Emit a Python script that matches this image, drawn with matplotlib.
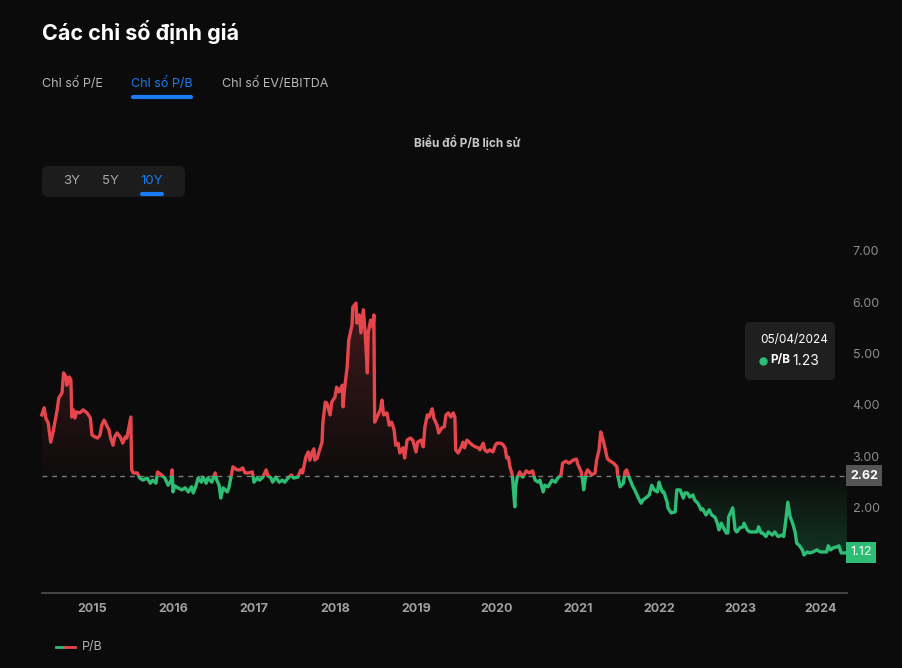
import matplotlib
matplotlib.use('Agg')
import matplotlib.pyplot as plt
import matplotlib.transforms as mtransforms
from matplotlib.patches import FancyBboxPatch, Rectangle
from matplotlib.lines import Line2D
import numpy as np

plt.rcParams['font.family'] = ['Inter', 'DejaVu Sans']

# P/B history, dates as fractional years
years = [
    2014.38, 2014.41, 2014.43, 2014.46, 2014.49, 2014.52, 2014.54, 2014.57, 2014.59, 2014.63,
    2014.65, 2014.68, 2014.69, 2014.72, 2014.74, 2014.75, 2014.77, 2014.79, 2014.81, 2014.85,
    2014.89, 2014.94, 2014.98, 2015.00, 2015.04, 2015.07, 2015.10, 2015.12, 2015.15, 2015.19,
    2015.21, 2015.23, 2015.26, 2015.28, 2015.31, 2015.35, 2015.38, 2015.41, 2015.43, 2015.46,
    2015.48, 2015.49, 2015.51, 2015.56, 2015.59, 2015.63, 2015.68, 2015.72, 2015.75, 2015.79,
    2015.81, 2015.86, 2015.90, 2015.94, 2015.98, 2015.99, 2016.00, 2016.02, 2016.06, 2016.11,
    2016.15, 2016.19, 2016.23, 2016.25, 2016.28, 2016.31, 2016.35, 2016.37, 2016.41, 2016.43,
    2016.48, 2016.52, 2016.54, 2016.57, 2016.59, 2016.62, 2016.67, 2016.69, 2016.72, 2016.74,
    2016.79, 2016.83, 2016.86, 2016.89, 2016.93, 2016.98, 2017.00, 2017.04, 2017.07, 2017.11,
    2017.15, 2017.17, 2017.21, 2017.23, 2017.27, 2017.31, 2017.35, 2017.38, 2017.42, 2017.46,
    2017.49, 2017.54, 2017.58, 2017.60, 2017.64, 2017.67, 2017.69, 2017.72, 2017.74, 2017.75,
    2017.78, 2017.81, 2017.84, 2017.85, 2017.88, 2017.90, 2017.94, 2017.96, 2018.00, 2018.02,
    2018.05, 2018.09, 2018.10, 2018.12, 2018.15, 2018.17, 2018.21, 2018.22, 2018.26, 2018.27,
    2018.30, 2018.32, 2018.35, 2018.37, 2018.40, 2018.41, 2018.44, 2018.47, 2018.48, 2018.49,
    2018.52, 2018.56, 2018.58, 2018.60, 2018.64, 2018.67, 2018.70, 2018.73, 2018.75, 2018.78,
    2018.80, 2018.84, 2018.86, 2018.89, 2018.93, 2018.96, 2019.00, 2019.02, 2019.06, 2019.09,
    2019.11, 2019.14, 2019.16, 2019.20, 2019.22, 2019.26, 2019.28, 2019.32, 2019.35, 2019.37,
    2019.40, 2019.43, 2019.46, 2019.48, 2019.49, 2019.52, 2019.56, 2019.58, 2019.60, 2019.63,
    2019.67, 2019.70, 2019.73, 2019.77, 2019.79, 2019.83, 2019.85, 2019.88, 2019.91, 2019.95,
    2019.98, 2020.00, 2020.04, 2020.07, 2020.10, 2020.12, 2020.14, 2020.16, 2020.19, 2020.20,
    2020.22, 2020.23, 2020.25, 2020.28, 2020.32, 2020.36, 2020.40, 2020.44, 2020.47, 2020.51,
    2020.53, 2020.57, 2020.59, 2020.63, 2020.68, 2020.72, 2020.75, 2020.79, 2020.81, 2020.85,
    2020.89, 2020.94, 2020.98, 2021.00, 2021.04, 2021.06, 2021.07, 2021.10, 2021.12, 2021.17,
    2021.21, 2021.23, 2021.26, 2021.28, 2021.31, 2021.33, 2021.36, 2021.38, 2021.42, 2021.44,
    2021.48, 2021.49, 2021.52, 2021.56, 2021.58, 2021.60, 2021.63, 2021.67, 2021.70, 2021.74,
    2021.78, 2021.80, 2021.85, 2021.88, 2021.91, 2021.94, 2021.98, 2022.00, 2022.04, 2022.06,
    2022.10, 2022.11, 2022.15, 2022.20, 2022.22, 2022.26, 2022.30, 2022.32, 2022.35, 2022.38,
    2022.42, 2022.44, 2022.48, 2022.52, 2022.54, 2022.58, 2022.62, 2022.65, 2022.69, 2022.72,
    2022.74, 2022.77, 2022.79, 2022.83, 2022.85, 2022.86, 2022.90, 2022.91, 2022.94, 2022.96,
    2023.00, 2023.04, 2023.05, 2023.09, 2023.12, 2023.16, 2023.21, 2023.23, 2023.26, 2023.28,
    2023.32, 2023.35, 2023.40, 2023.43, 2023.47, 2023.52, 2023.54, 2023.57, 2023.59, 2023.62,
    2023.65, 2023.68, 2023.70, 2023.73, 2023.77, 2023.79, 2023.83, 2023.86, 2023.90, 2023.95,
    2023.99, 2024.02, 2024.07, 2024.09, 2024.12, 2024.15, 2024.20, 2024.22, 2024.25, 2024.27,
    2024.30, 2024.32,
]
pb = [
    3.80, 3.94, 3.74, 3.64, 3.27, 3.47, 3.64, 3.90, 4.13, 4.23,
    4.62, 4.54, 4.38, 4.54, 4.48, 3.76, 3.90, 3.74, 3.86, 3.84,
    3.90, 3.84, 3.74, 3.41, 3.37, 3.35, 3.41, 3.60, 3.70, 3.57,
    3.51, 3.35, 3.21, 3.37, 3.45, 3.37, 3.25, 3.37, 3.35, 3.60,
    3.76, 2.73, 2.67, 2.67, 2.57, 2.53, 2.57, 2.47, 2.53, 2.47,
    2.69, 2.63, 2.57, 2.43, 2.53, 2.73, 2.30, 2.42, 2.38, 2.34,
    2.38, 2.30, 2.40, 2.28, 2.40, 2.57, 2.49, 2.59, 2.47, 2.57,
    2.49, 2.67, 2.53, 2.43, 2.18, 2.38, 2.30, 2.38, 2.63, 2.79,
    2.73, 2.73, 2.77, 2.67, 2.67, 2.69, 2.49, 2.57, 2.53, 2.59,
    2.73, 2.63, 2.57, 2.49, 2.59, 2.49, 2.53, 2.49, 2.57, 2.63,
    2.57, 2.59, 2.73, 2.67, 2.98, 3.08, 2.92, 3.08, 3.14, 2.92,
    2.96, 3.12, 3.27, 3.64, 4.05, 4.03, 3.80, 4.05, 4.15, 4.34,
    4.25, 4.38, 3.96, 4.34, 4.73, 5.26, 5.55, 5.90, 5.98, 5.59,
    5.75, 5.40, 5.85, 5.46, 4.62, 5.40, 5.65, 5.51, 5.75, 3.66,
    3.76, 3.90, 4.09, 3.80, 3.84, 3.60, 3.66, 3.51, 3.21, 3.25,
    3.06, 3.16, 2.96, 3.31, 3.35, 3.31, 3.08, 3.27, 3.31, 3.18,
    3.57, 3.80, 3.76, 3.92, 3.74, 3.60, 3.45, 3.55, 3.57, 3.80,
    3.84, 3.76, 3.84, 3.76, 3.12, 3.06, 3.18, 3.27, 3.16, 3.31,
    3.25, 3.21, 3.18, 3.16, 3.12, 3.25, 3.12, 3.08, 3.12, 3.08,
    3.21, 3.25, 3.25, 3.23, 3.16, 2.96, 2.98, 2.79, 2.63, 2.40,
    2.01, 2.40, 2.59, 2.69, 2.59, 2.71, 2.67, 2.71, 2.53, 2.49,
    2.53, 2.30, 2.43, 2.40, 2.53, 2.49, 2.57, 2.63, 2.86, 2.90,
    2.86, 2.92, 2.94, 2.83, 2.69, 2.49, 2.34, 2.67, 2.73, 2.63,
    2.67, 2.92, 3.12, 3.47, 3.31, 3.18, 2.96, 2.92, 2.88, 2.86,
    2.79, 2.63, 2.40, 2.47, 2.69, 2.73, 2.59, 2.43, 2.34, 2.20,
    2.08, 2.14, 2.20, 2.24, 2.43, 2.34, 2.30, 2.49, 2.30, 2.30,
    2.10, 1.99, 1.89, 1.91, 2.34, 2.34, 2.18, 2.28, 2.28, 2.20,
    2.24, 2.14, 2.08, 1.95, 1.97, 1.85, 1.95, 1.85, 1.81, 1.69,
    1.56, 1.69, 1.62, 1.50, 1.50, 1.81, 1.95, 1.99, 1.56, 1.52,
    1.60, 1.62, 1.69, 1.56, 1.52, 1.52, 1.52, 1.62, 1.50, 1.50,
    1.43, 1.52, 1.46, 1.52, 1.43, 1.46, 1.43, 1.81, 2.10, 1.81,
    1.69, 1.52, 1.30, 1.26, 1.17, 1.07, 1.13, 1.11, 1.13, 1.17,
    1.13, 1.13, 1.13, 1.25, 1.17, 1.21, 1.23, 1.25, 1.11, 1.11,
    1.11, 1.12,
]
median_pb = 2.62
last_pb = 1.12
year_ticks = [2015, 2016, 2017, 2018, 2019, 2020, 2021, 2022, 2023, 2024]
pb_ticks = [1, 2, 3, 4, 5, 6, 7]
tooltip_date = '05/04/2024'
tooltip_val = 1.23

BG = '#0b0b0b'
RED = '#e5464c'
GREEN = '#2dbd74'
BLUE = '#1a7cf0'
W, H = 902, 668

fig = plt.figure(figsize=(W / 100, H / 100), dpi=100, facecolor=BG)
pix = mtransforms.IdentityTransform()


def fxy(x, y):
    return x / W, 1 - y / H


def rbox(x0, y0, x1, y1, color, r=6):
    fig.add_artist(FancyBboxPatch((x0 + r, H - y1 + r), x1 - x0 - 2 * r, y1 - y0 - 2 * r,
                                  boxstyle=f'round,pad={r},rounding_size={r}',
                                  fc=color, ec='none', transform=pix))


# header
fig.text(*fxy(42, 32), 'Các chỉ số định giá', color='white', fontsize=15.5,
         fontweight='bold', va='center', ha='left')
for x, label, col in [(42, 'Chỉ số P/E', '#b8b8b8'), (131, 'Chỉ số P/B', BLUE),
                      (222, 'Chỉ số EV/EBITDA', '#b8b8b8')]:
    fig.text(*fxy(x, 84), label, color=col, fontsize=9, va='center', ha='left')
fig.add_artist(Line2D([133 / W, 191 / W], [1 - 97 / H] * 2, color=BLUE, lw=3,
                      solid_capstyle='round'))
fig.text(*fxy(467, 142), 'Biểu đồ P/B lịch sử', color='#c8c8c8', fontsize=8.5,
         fontweight='bold', va='center', ha='center')

# period selector
rbox(42, 166, 185, 197, '#1c1c1c', r=6)
for x, label, col in [(72, '3Y', '#a8a8a8'), (110, '5Y', '#a8a8a8'), (152, '10Y', BLUE)]:
    fig.text(*fxy(x, 181), label, color=col, fontsize=9.5, va='center', ha='center')
fig.add_artist(Line2D([142 / W, 162 / W], [1 - 194 / H] * 2, color=BLUE, lw=3,
                      solid_capstyle='round'))

# chart
ax = fig.add_axes([42 / W, 1 - 593 / H, (847 - 42) / W, (593 - 220) / H], facecolor=BG)
x0, x1 = 2014.383, 2024.321
y0, y1 = 0.33, 7.60
ax.set_xlim(x0, x1)
ax.set_ylim(y0, y1)

poly = ax.fill_between(years, pb, median_pb, fc='none', ec='none')
clip = poly.get_paths()[0]

n = 256
red_grad = np.zeros((n, 1, 4))
red_grad[..., :3] = matplotlib.colors.to_rgb(RED)
red_grad[:, 0, 3] = np.linspace(0.26, 0.02, n)
im = ax.imshow(red_grad, extent=[x0, x1, median_pb, 6.1], aspect='auto',
               origin='upper', zorder=1)
im.set_clip_path(clip, transform=ax.transData)

green_grad = np.zeros((n, 1, 4))
green_grad[..., :3] = matplotlib.colors.to_rgb(GREEN)
green_grad[:, 0, 3] = np.linspace(0.02, 0.24, n)
im = ax.imshow(green_grad, extent=[x0, x1, 1.0, median_pb], aspect='auto',
               origin='upper', zorder=1)
im.set_clip_path(clip, transform=ax.transData)

above = Rectangle((x0 - 1, median_pb), x1 - x0 + 2, 10, transform=ax.transData)
below = Rectangle((x0 - 1, median_pb - 10), x1 - x0 + 2, 10, transform=ax.transData)
l_red, = ax.plot(years, pb, color=RED, lw=2.4, zorder=3, solid_joinstyle='round')
l_red.set_clip_path(above)
l_green, = ax.plot(years, pb, color=GREEN, lw=2.4, zorder=3, solid_joinstyle='round')
l_green.set_clip_path(below)

ax.axhline(median_pb, color='#7a7a7a', lw=1, ls=(0, (3.5, 3.5)), zorder=2)

ax.set_xticks(year_ticks)
ax.set_xticklabels([str(y) for y in year_ticks])
ax.set_yticks(pb_ticks)
ax.set_yticklabels([f'{v:.2f}' for v in pb_ticks])
ax.yaxis.tick_right()
ax.tick_params(axis='x', length=0, pad=7, labelcolor='#a0a0a0', labelsize=9)
ax.tick_params(axis='y', length=0, pad=4, labelcolor='#8c8c8c', labelsize=9)
for lab in ax.get_xticklabels():
    lab.set_fontweight('bold')
for s in ['top', 'left', 'right']:
    ax.spines[s].set_visible(False)
ax.spines['bottom'].set_color('#505050')
ax.spines['bottom'].set_linewidth(1.2)

ytr = ax.get_yaxis_transform()
ax.text(1.004, median_pb, f'{median_pb:.2f}', transform=ytr, color='white', fontsize=9,
        va='center', ha='left', fontweight='bold', zorder=5, clip_on=False,
        bbox=dict(boxstyle='square,pad=0.35', fc='#555555', ec='none'))
ax.text(1.004, last_pb, f'{last_pb:.2f}', transform=ytr, color='white', fontsize=9,
        va='center', ha='left', zorder=5, clip_on=False,
        bbox=dict(boxstyle='square,pad=0.35', fc=GREEN, ec='none'))

# tooltip
rbox(745, 322, 835, 380, '#1f1f1f', r=5)
fig.text(*fxy(760, 340), tooltip_date, color='white', fontsize=8.5, va='center', ha='left')
fig.add_artist(Line2D([763 / W], [1 - 361 / H], marker='o', ms=5, color=GREEN, lw=0))
fig.text(*fxy(770, 360), 'P/B', color='white', fontsize=8.5, fontweight='bold',
         va='center', ha='left')
fig.text(*fxy(792, 361), f'{tooltip_val:.2f}', color='white', fontsize=10,
         va='center', ha='left')

# legend
fig.add_artist(Line2D([56 / W, 65 / W], [1 - 647 / H] * 2, color=GREEN, lw=2))
fig.add_artist(Line2D([65 / W, 75 / W], [1 - 647 / H] * 2, color=RED, lw=2))
fig.text(*fxy(82, 647), 'P/B', color='#b0b0b0', fontsize=9, va='center', ha='left')

fig.savefig('out.png', dpi=100, facecolor=BG)
